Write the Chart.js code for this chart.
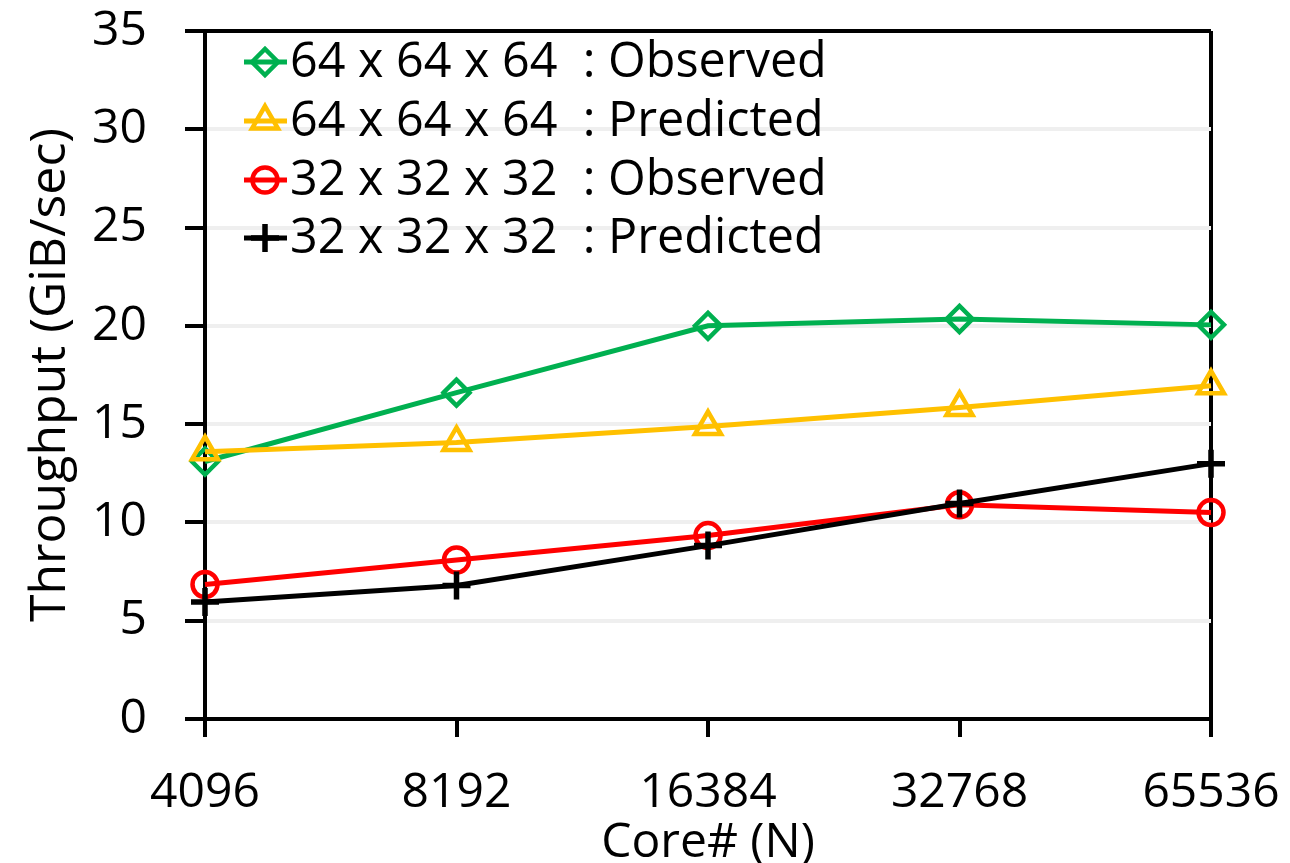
<!DOCTYPE html>
<html>
<head>
<meta charset="utf-8">
<title>Throughput vs Core#</title>
<script src="https://cdn.jsdelivr.net/npm/chart.js@4.4.1/dist/chart.umd.min.js"></script>
<style>
  html, body { margin: 0; padding: 0; background: #ffffff; }
  #wrap { width: 1290px; height: 863px; position: relative; }
</style>
</head>
<body>
<div id="wrap"><canvas id="chart" width="1290" height="863"></canvas></div>
<script>
// Core counts on the x axis
const categories = ['4096', '8192', '16384', '32768', '65536'];

// Throughput in GiB/sec
const observed64 = [13.1, 16.6, 20.0, 20.35, 20.05];
const predicted64 = [13.6, 14.07, 14.88, 15.85, 16.95];
const observed32 = [6.84, 8.09, 9.33, 10.9, 10.5];
const predicted32 = [5.95, 6.79, 8.82, 10.96, 12.99];

// Series names
const seriesLabels = [
  '64 x 64 x 64  : Observed',
  '64 x 64 x 64  : Predicted',
  '32 x 32 x 32  : Observed',
  '32 x 32 x 32  : Predicted'
];

// Y axis range
const yMin = 0;
const yMax = 35;
const yStep = 5;

const FONT = "'Open Sans', 'Noto Sans', sans-serif";
const NONE = 'rgba(0,0,0,0)';

function series(label, data, color, style, radius, pbw, order) {
  return {
    label: label,
    data: data,
    borderColor: color,
    backgroundColor: NONE,
    borderWidth: 5,
    pointStyle: style,
    pointRadius: radius,
    pointHoverRadius: radius,
    pointBorderWidth: pbw,
    pointBorderColor: color,
    pointBackgroundColor: NONE,
    tension: 0,
    fill: false,
    clip: false,
    order: order
  };
}

const datasets = [
  series(seriesLabels[0], observed64, '#00B050', 'rectRot', 13, 4.5, 4),
  series(seriesLabels[1], predicted64, '#FFC000', 'triangle', 15, 4.5, 3),
  series(seriesLabels[2], observed32, '#FF0000', 'circle', 12.5, 4.5, 2),
  series(seriesLabels[3], predicted32, '#000000', 'cross', 14, 5.5, 1)
];

// Legend drawn inside the plot, each row: line + marker + text
const insideLegend = {
  id: 'insideLegend',
  afterDatasetsDraw(chart) {
    const ctx = chart.ctx;
    const x0 = 244, x1 = 287, mx = 265, tx = 290;
    const rowY = [62, 121, 180, 238];
    ctx.save();
    chart.data.datasets.forEach((ds, i) => {
      const y = rowY[i];
      ctx.strokeStyle = ds.borderColor;
      ctx.lineWidth = 5;
      ctx.beginPath();
      ctx.moveTo(x0, y);
      ctx.lineTo(x1, y);
      ctx.stroke();
      ctx.fillStyle = NONE;
      ctx.strokeStyle = ds.pointBorderColor;
      ctx.lineWidth = ds.pointBorderWidth;
      Chart.helpers.drawPoint(ctx, {
        pointStyle: ds.pointStyle,
        radius: ds.pointRadius,
        rotation: 0,
        borderWidth: ds.pointBorderWidth
      }, mx, y);
      ctx.fillStyle = '#000000';
      ctx.font = '48.5px ' + FONT;
      ctx.textAlign = 'left';
      ctx.textBaseline = 'middle';
      ctx.fillText(ds.label, tx, y + 1);
    });
    ctx.restore();
  }
};

new Chart(document.getElementById('chart'), {
  type: 'line',
  data: { labels: categories, datasets: datasets },
  options: {
    responsive: false,
    animation: false,
    events: [],
    layout: { padding: { top: 31, right: 79, left: 0, bottom: 0 } },
    plugins: {
      legend: { display: false },
      tooltip: { enabled: false },
      title: { display: false }
    },
    scales: {
      x: {
        type: 'category',
        offset: false,
        grid: {
          color: (c) => (c.index === categories.length - 1 ? '#000000' : NONE),
          lineWidth: 4,
          tickLength: 18,
          tickColor: '#000000',
          drawTicks: true
        },
        border: { color: '#000000', width: 4 },
        ticks: {
          color: '#000000',
          font: { family: FONT, size: 48 },
          padding: 28,
          maxRotation: 0,
          autoSkip: false
        },
        title: {
          display: true,
          text: 'Core# (N)',
          color: '#000000',
          font: { family: FONT, size: 48, lineHeight: 0.8 },
          padding: { top: 0, bottom: 0 }
        },
        afterFit: (s) => {
          s.height = 144;
          s.paddingLeft = 0;
          s.paddingRight = 0;
        }
      },
      y: {
        min: yMin,
        max: yMax,
        grid: {
          color: (c) => (c.tick && c.tick.value === yMax ? '#000000' : '#efefef'),
          lineWidth: 4,
          tickLength: 20,
          tickColor: '#000000'
        },
        border: { color: '#000000', width: 4 },
        ticks: {
          stepSize: yStep,
          color: '#000000',
          font: { family: FONT, size: 48 },
          padding: 38
        },
        title: {
          display: true,
          text: 'Throughput (GiB/sec)',
          color: '#000000',
          font: { family: FONT, size: 50, lineHeight: 1.2 },
          padding: { top: 21, bottom: 0 }
        },
        afterFit: (s) => {
          s.width = 205;
          s.paddingTop = 0;
          s.paddingBottom = 0;
        }
      }
    }
  },
  plugins: [insideLegend]
});
</script>
</body>
</html>
